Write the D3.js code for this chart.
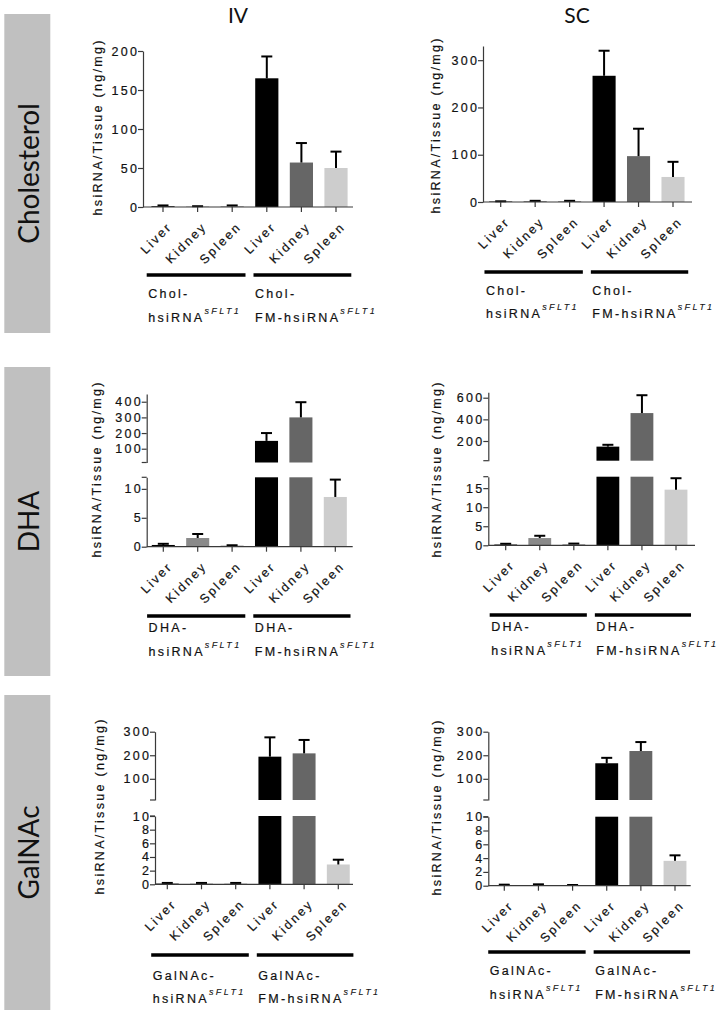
<!DOCTYPE html>
<html><head><meta charset="utf-8">
<script src="https://cdn.jsdelivr.net/npm/d3@7"></script>
<style>body{margin:0;background:#fff} svg{display:block}</style>
</head><body>
<svg id="c" width="720" height="1016"></svg>
<script>
// ---------- data ----------
const tissues = ["Liver","Kidney","Spleen","Liver","Kidney","Spleen"];
const conjugates = ["Cholesterol","DHA","GalNAc"];
const routes = ["IV","SC"];
const groupPrefix = ["Chol-","DHA-","GalNAc-"];
const groupNames = ["hsiRNA","FM-hsiRNA"];
const superscript = "sFLT1";
const yLabel = "hsiRNA/Tissue (ng/mg)";

const cholIV = [1, 0.5, 1, 165, 57, 50];
const cholIVErr = [1, 0.5, 1, 28, 25, 21];
const cholSC = [1, 2, 2, 267, 97, 53];
const cholSCErr = [0.5, 0.5, 0.5, 53, 58, 32];
const dhaIV = [0.3, 1.5, 0.2, 150, 300, 8.6];
const dhaIVErr = [0.2, 0.7, 0.05, 50, 97, 3.0];
const dhaSC = [0.2, 1.9, 0.3, 148, 458, 14.6];
const dhaSCErr = [0.2, 0.6, 0.15, 17, 165, 3.0];
const galIV = [0.1, 0.1, 0.1, 194, 208, 2.9];
const galIVErr = [0.1, 0.1, 0.1, 82, 57, 0.7];
const galSC = [0.05, 0.1, 0.05, 166, 218, 3.6];
const galSCErr = [0.1, 0.1, 0.05, 23, 38, 0.8];

const cholIVTicks = [0, 50, 100, 150, 200];
const cholSCTicks = [0, 100, 200, 300];
const dhaIVTicksLow = [0, 5, 10];
const dhaIVTicksHigh = [100, 200, 300, 400];
const dhaSCTicksLow = [0, 5, 10, 15];
const dhaSCTicksHigh = [200, 400, 600];
const galTicksLow = [0, 2, 4, 6, 8, 10];
const galTicksHigh = [100, 200, 300];

// ---------- layout ----------
const barColors = ["#000000","#8a8a8a","#9c9c9c","#000000","#666666","#cdcdcd"];
const FONT = "'Liberation Sans', Arial, Helvetica, sans-serif";
const TITLEFONT = "Lato, 'Open Sans', sans-serif";
const FS = 12.5, LS = 2.3;

const panels = [
  {row:0, col:0, vals:cholIV, errs:cholIVErr, axisX:143, xEnd:353, c0:163, c5:336,
   segs:[{domain:[0,200], range:[207,51], ticks:cholIVTicks}],
   gy:275, l1:18, l2:42, ylx:97, yly:128},
  {row:0, col:1, vals:cholSC, errs:cholSCErr, axisX:483, xEnd:692, c0:500.7, c5:673,
   segs:[{domain:[0,330], range:[202,46], ticks:cholSCTicks}],
   gy:272, l1:18, l2:41, ylx:435, yly:126},
  {row:1, col:0, vals:dhaIV, errs:dhaIVErr, axisX:146.7, xEnd:352.7, c0:163.3, c5:335.3,
   segs:[{domain:[0,12], range:[546.7,477.3], ticks:dhaIVTicksLow, capTop:true},
         {domain:[12,450], range:[462.5,393.9], ticks:dhaIVTicksHigh, capBottom:true}],
   gy:616, l1:11, l2:35, ylx:96.7, yly:470},
  {row:1, col:1, vals:dhaSC, errs:dhaSCErr, axisX:488.3, xEnd:695, c0:505.7, c5:676,
   segs:[{domain:[0,18], range:[545.3,476.7], ticks:dhaSCTicksLow, capTop:true},
         {domain:[18,650], range:[460.7,392.3], ticks:dhaSCTicksHigh, capBottom:true}],
   gy:615, l1:11, l2:35, ylx:436.7, yly:470},
  {row:2, col:0, vals:galIV, errs:galIVErr, axisX:155, xEnd:353, c0:167.3, c5:338.3,
   segs:[{domain:[0,10], range:[884.3,816], ticks:galTicksLow, capTop:true},
         {domain:[10,300], range:[800,731.7], ticks:galTicksHigh, capBottom:true}],
   gy:955, l1:20, l2:43, ylx:99.3, yly:807},
  {row:2, col:1, vals:galSC, errs:galSCErr, axisX:488.3, xEnd:690.7, c0:504.3, c5:675,
   segs:[{domain:[0,10], range:[885.7,816.7], ticks:galTicksLow, capTop:true},
         {domain:[10,300], range:[800,731.7], ticks:galTicksHigh, capBottom:true}],
   gy:952, l1:18, l2:42, ylx:436.7, yly:808}
];

const titleX = [238, 577];
const boxes = [[14,333],[367,676],[695,1010]];

const svg = d3.select("#c");
const AX = "#3a3a3a";

// spaced text: widen via textLength (letter-spacing emulation)
function spaced(sel, size, ls){
  sel.style("font-family",FONT).style("font-size",size+"px")
    .attr("fill","#111").attr("stroke","#111").attr("stroke-width",0.2);
  sel.each(function(){
    const n = this.textContent.length;
    const w = this.getComputedTextLength();
    this.setAttribute("textLength", w + (n-1)*ls);
    this.setAttribute("lengthAdjust","spacing");
  });
  return sel;
}

// row labels
boxes.forEach((b,i)=>{
  svg.append("rect").attr("x",4.3).attr("y",b[0]).attr("width",46).attr("height",b[1]-b[0]).attr("fill","#c0c0c0");
  svg.append("text").attr("transform",`translate(27.5,${(b[0]+b[1])/2}) rotate(-90)`)
    .attr("text-anchor","middle").attr("dominant-baseline","central")
    .style("font-family",TITLEFONT).style("font-size","28px").attr("fill","#111").text(conjugates[i]);
});
// column titles
routes.forEach((r,i)=>{
  svg.append("text").attr("x",titleX[i]).attr("y",23.3).attr("text-anchor","middle")
    .style("font-family",TITLEFONT).style("font-size","21px").attr("fill","#111").text(r);
});

panels.forEach(p=>{
  const g = svg.append("g");
  const step = (p.c5 - p.c0)/5;
  const x = d3.scaleBand().domain(d3.range(6)).range([p.c0 - step/2, p.c5 + step/2])
    .paddingInner(0.33).paddingOuter(0.165);
  const bw = x.bandwidth();
  const scales = p.segs.map(s=>d3.scaleLinear().domain(s.domain).range(s.range));
  const y0 = p.segs[0].range[0];

  // bars
  p.vals.forEach((v,i)=>{
    p.segs.forEach((s,k)=>{
      if (v > s.domain[0]) {
        const sc = scales[k];
        const top = sc(Math.min(v, s.domain[1]));
        const bot = sc(s.domain[0]);
        g.append("rect").attr("x",x(i)).attr("y",top).attr("width",bw).attr("height",Math.max(0,bot-top))
          .attr("fill",barColors[i]);
      }
    });
    const k = p.segs.findIndex(s=>v<=s.domain[1]);
    const sc = scales[k];
    const cx = x(i)+bw/2;
    const yv = sc(v), ye = sc(v + p.errs[i]);
    g.append("line").attr("x1",cx).attr("x2",cx).attr("y1",yv).attr("y2",ye).attr("stroke","#000").attr("stroke-width",2);
    g.append("line").attr("x1",cx-5.5).attr("x2",cx+5.5).attr("y1",ye).attr("y2",ye).attr("stroke","#000").attr("stroke-width",2);
  });

  // y axes
  p.segs.forEach((s,k)=>{
    const sc = scales[k];
    const ax = d3.axisLeft(sc).tickValues(s.ticks).tickSize(5).tickSizeOuter(0).tickPadding(1);
    const ag = g.append("g").attr("transform",`translate(${p.axisX},0)`).call(ax);
    ag.select(".domain").attr("stroke",AX).attr("stroke-width",1.2);
    ag.selectAll(".tick line").attr("stroke",AX).attr("stroke-width",1.2);
    spaced(ag.selectAll(".tick text"), FS, LS);
    if (s.capTop) g.append("line").attr("x1",p.axisX-5).attr("x2",p.axisX).attr("y1",s.range[1]).attr("y2",s.range[1]).attr("stroke",AX).attr("stroke-width",1.2);
    if (s.capBottom) g.append("line").attr("x1",p.axisX-5).attr("x2",p.axisX).attr("y1",s.range[0]).attr("y2",s.range[0]).attr("stroke",AX).attr("stroke-width",1.2);
  });

  // x axis
  g.append("line").attr("x1",p.axisX).attr("x2",p.xEnd).attr("y1",y0).attr("y2",y0).attr("stroke",AX).attr("stroke-width",1.2);
  tissues.forEach((t,i)=>{
    const cx = x(i)+bw/2;
    g.append("line").attr("x1",cx).attr("x2",cx).attr("y1",y0).attr("y2",y0+5).attr("stroke",AX).attr("stroke-width",1.2);
    spaced(g.append("text").attr("transform",`translate(${cx+8.3},${y0+22}) rotate(-45)`)
      .attr("text-anchor","end").text(t), FS, LS);
  });

  // y label
  spaced(g.append("text").attr("transform",`translate(${p.ylx+4.5},${p.yly}) rotate(-90)`)
    .attr("text-anchor","middle").text(yLabel), FS, LS);

  // group lines and labels
  const bandStart = p.c0 - step/2, bandEnd = p.c5 + step/2, mid = (bandStart+bandEnd)/2;
  const segsX = [[bandStart+1, mid-4],[mid+4, bandEnd-2]];
  segsX.forEach((sx,gi)=>{
    g.append("line").attr("x1",sx[0]).attr("x2",sx[1]).attr("y1",p.gy).attr("y2",p.gy)
      .attr("stroke","#000").attr("stroke-width",3.5);
    const tx = sx[0]+1.5;
    spaced(g.append("text").attr("x",tx).attr("y",p.gy+p.l1+4.6).text(groupPrefix[p.row]), FS, LS);
    const t2 = spaced(g.append("text").attr("x",tx).attr("y",p.gy+p.l2+4.6).text(groupNames[gi]), FS, LS);
    const w = +t2.attr("textLength");
    spaced(g.append("text").attr("x",tx+w+LS).attr("y",p.gy+p.l2+4.6-7.5).text(superscript)
      .style("font-style","italic"), 9, 2.4).attr("stroke-width",0.1);
  });
});
</script>
</body></html>
